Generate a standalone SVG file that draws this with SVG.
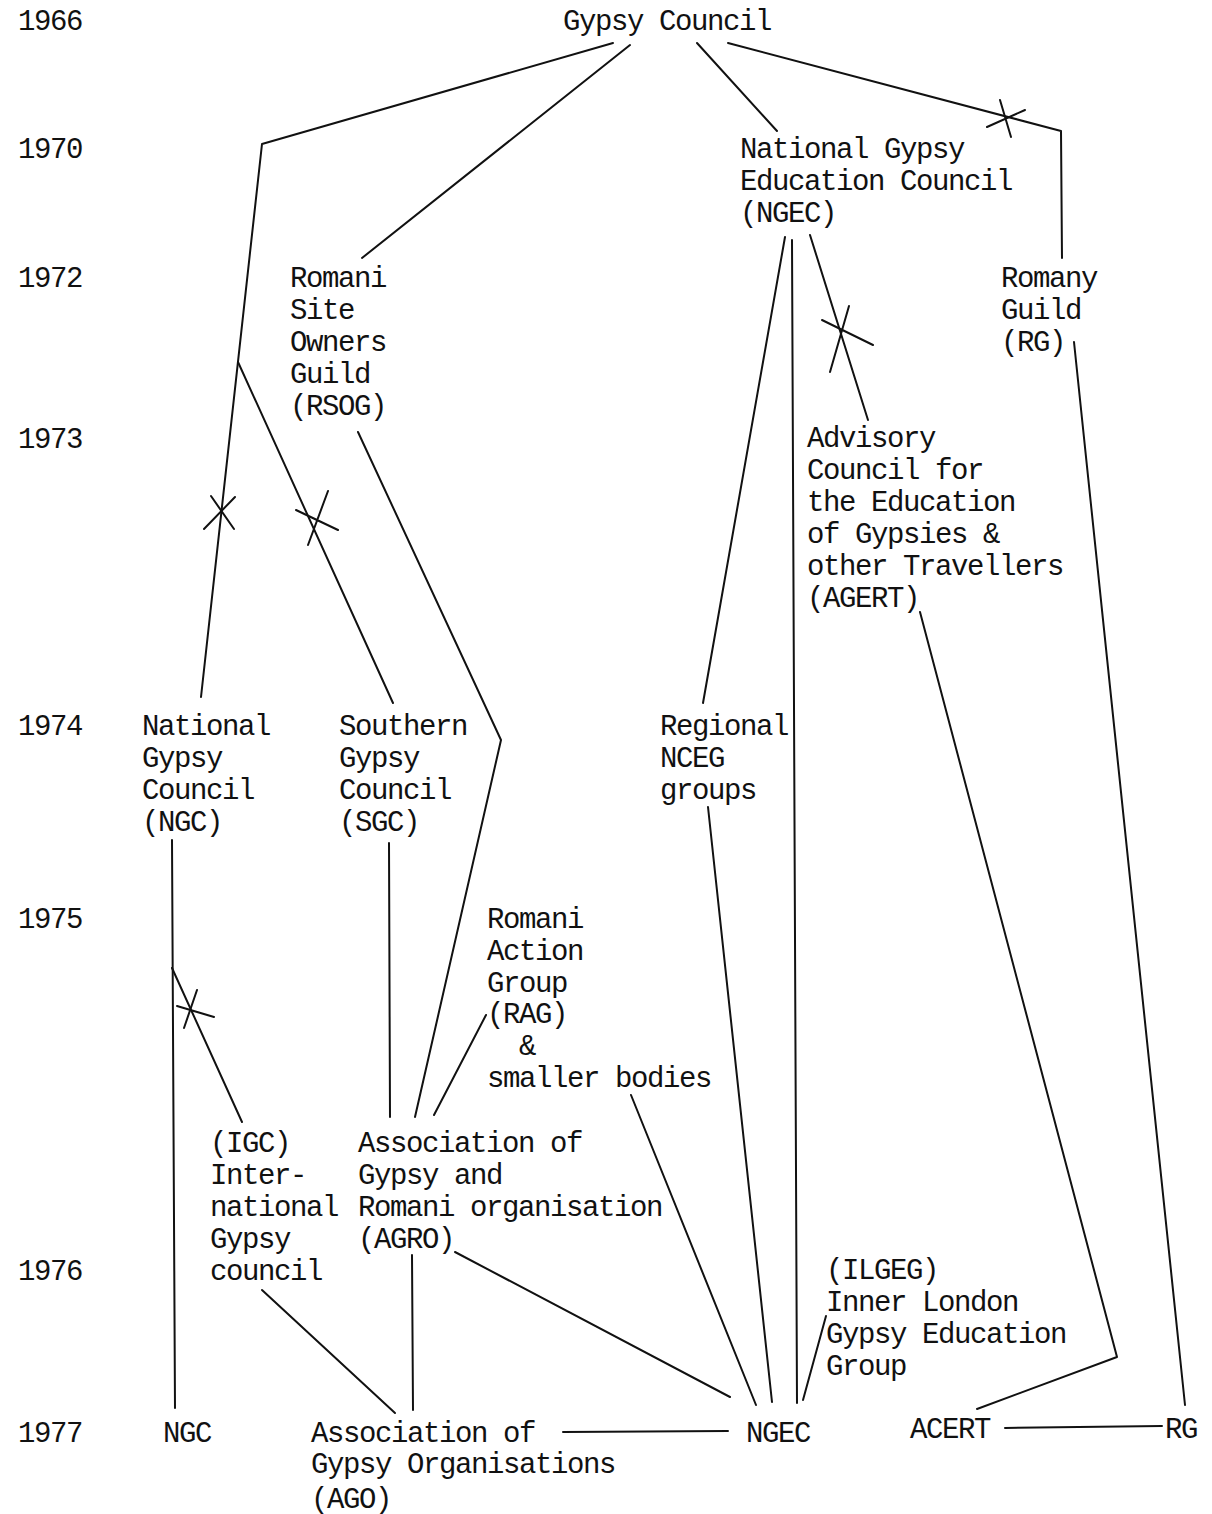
<svg xmlns="http://www.w3.org/2000/svg" width="1212" height="1514" viewBox="0 0 1212 1514">
<style>
text{font-family:"Liberation Mono","DejaVu Sans Mono",monospace;font-size:29px;letter-spacing:-1.4px;fill:#111;white-space:pre}
.c line,.c polyline,.c path{stroke:#111;stroke-width:2;fill:none;stroke-linecap:round;stroke-linejoin:round}
</style>
<rect width="1212" height="1514" fill="#fff"/>
<g id="years">
<text x="18" y="30">1966</text>
<text x="18" y="158">1970</text>
<text x="18" y="287">1972</text>
<text x="18" y="448">1973</text>
<text x="18" y="735">1974</text>
<text x="18" y="928">1975</text>
<text x="18" y="1280">1976</text>
<text x="18" y="1442">1977</text>
</g>
<g class="c" id="connectors">
<polyline points="613,43 262,144 201,697"/>
<line x1="238" y1="362" x2="393" y2="703"/>
<line x1="630" y1="45" x2="362" y2="258"/>
<line x1="697" y1="43" x2="777" y2="131"/>
<polyline points="728,43 1061,131 1062,258"/>
<polyline points="358,432 501,740 415,1117"/>
<line x1="785" y1="237" x2="703" y2="703"/>
<line x1="792" y1="240" x2="797" y2="1403"/>
<line x1="810" y1="235" x2="868" y2="420"/>
<line x1="1074" y1="342" x2="1185" y2="1405"/>
<polyline points="920,612 1117,1357 977,1409"/>
<line x1="172" y1="840" x2="175" y2="1408"/>
<line x1="172" y1="968" x2="242" y2="1122"/>
<line x1="389" y1="843" x2="390" y2="1117"/>
<line x1="486" y1="1015" x2="434" y2="1115"/>
<line x1="631" y1="1095" x2="756" y2="1405"/>
<line x1="708" y1="807" x2="772" y2="1402"/>
<line x1="455" y1="1252" x2="730" y2="1397"/>
<line x1="826" y1="1316" x2="803" y2="1400"/>
<line x1="262" y1="1290" x2="395" y2="1413"/>
<line x1="412" y1="1255" x2="413" y2="1410"/>
<line x1="563" y1="1432" x2="728" y2="1431"/>
<line x1="1005" y1="1428" x2="1162" y2="1426"/>
<path d="M1000,100 L1011,137 M987,127 L1025,110"/>
<path d="M822,320 L873,345 M849,306 L830,372"/>
<path d="M204,529 L235,497 M211,496 L234,529"/>
<path d="M296,510 L338,530 M328,491 L308,545"/>
<path d="M177,1006 L214,1017 M197,990 L184,1028"/>
</g>
<g id="gypsy-council"><text x="563" y="30">Gypsy Council</text></g>
<g id="ngec"><text x="740" y="158">National Gypsy</text><text x="740" y="190">Education Council</text><text x="740" y="222">(NGEC)</text></g>
<g id="rsog"><text x="290" y="287">Romani</text><text x="290" y="319">Site</text><text x="290" y="351">Owners</text><text x="290" y="383">Guild</text><text x="290" y="415">(RSOG)</text></g>
<g id="rg"><text x="1001" y="287">Romany</text><text x="1001" y="319">Guild</text><text x="1001" y="351">(RG)</text></g>
<g id="agert"><text x="807" y="447">Advisory</text><text x="807" y="479">Council for</text><text x="807" y="511">the Education</text><text x="807" y="543">of Gypsies &amp;</text><text x="807" y="575">other Travellers</text><text x="807" y="607">(AGERT)</text></g>
<g id="ngc"><text x="142" y="735">National</text><text x="142" y="767">Gypsy</text><text x="142" y="799">Council</text><text x="142" y="831">(NGC)</text></g>
<g id="sgc"><text x="339" y="735">Southern</text><text x="339" y="767">Gypsy</text><text x="339" y="799">Council</text><text x="339" y="831">(SGC)</text></g>
<g id="regional"><text x="660" y="735">Regional</text><text x="660" y="767">NCEG</text><text x="660" y="799">groups</text></g>
<g id="rag"><text x="487" y="928">Romani</text><text x="487" y="960">Action</text><text x="487" y="992">Group</text><text x="487" y="1023">(RAG)</text><text x="487" y="1055">  &amp;</text><text x="487" y="1087">smaller bodies</text></g>
<g id="igc"><text x="210" y="1152">(IGC)</text><text x="210" y="1184">Inter-</text><text x="210" y="1216">national</text><text x="210" y="1248">Gypsy</text><text x="210" y="1280">council</text></g>
<g id="agro"><text x="358" y="1152">Association of</text><text x="358" y="1184">Gypsy and</text><text x="358" y="1216">Romani organisation</text><text x="358" y="1248">(AGRO)</text></g>
<g id="ilgeg"><text x="826" y="1279">(ILGEG)</text><text x="826" y="1311">Inner London</text><text x="826" y="1343">Gypsy Education</text><text x="826" y="1375">Group</text></g>
<g id="ngc-1977"><text x="163" y="1442">NGC</text></g>
<g id="ago"><text x="311" y="1442">Association of</text><text x="311" y="1473">Gypsy Organisations</text><text x="311" y="1508">(AGO)</text></g>
<g id="ngec-1977"><text x="746" y="1442">NGEC</text></g>
<g id="acert"><text x="910" y="1438">ACERT</text></g>
<g id="rg-1977"><text x="1165" y="1438">RG</text></g>
</svg>
